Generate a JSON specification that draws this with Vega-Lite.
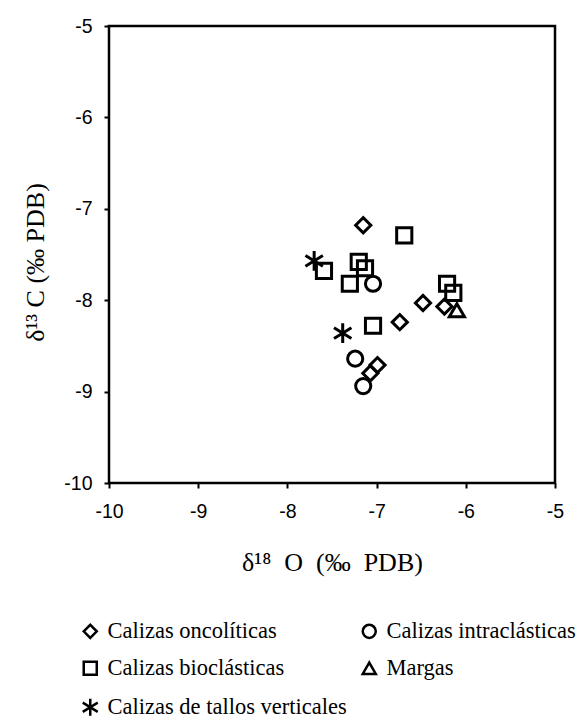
{
  "$schema": "https://vega.github.io/schema/vega-lite/v6.json",
  "autosize": "none",
  "width": 446,
  "height": 457,
  "padding": {"left": 109, "top": 26, "right": 29, "bottom": 238},
  "background": "white",
  "config": {
    "view": {"stroke": "black", "strokeWidth": 2.5},
    "axis": {
      "domain": false,
      "grid": false,
      "tickColor": "black",
      "tickWidth": 2,
      "tickSize": 5,
      "labelFont": "Liberation Sans",
      "labelFontSize": 19.5,
      "labelColor": "black",
      "titleFont": "Liberation Serif",
      "titleFontSize": 25,
      "titleFontWeight": "normal",
      "titleColor": "black"
    }
  },
  "data": {
    "values": [
      {"d18O": -7.15, "d13C": -7.18, "tipo": "Calizas oncolíticas"},
      {"d18O": -6.74, "d13C": -8.24, "tipo": "Calizas oncolíticas"},
      {"d18O": -6.48, "d13C": -8.03, "tipo": "Calizas oncolíticas"},
      {"d18O": -6.24, "d13C": -8.07, "tipo": "Calizas oncolíticas"},
      {"d18O": -6.99, "d13C": -8.71, "tipo": "Calizas oncolíticas"},
      {"d18O": -7.07, "d13C": -8.80, "tipo": "Calizas oncolíticas"},
      {"d18O": -6.69, "d13C": -7.29, "tipo": "Calizas bioclásticas"},
      {"d18O": -7.20, "d13C": -7.58, "tipo": "Calizas bioclásticas"},
      {"d18O": -7.13, "d13C": -7.65, "tipo": "Calizas bioclásticas"},
      {"d18O": -7.30, "d13C": -7.82, "tipo": "Calizas bioclásticas"},
      {"d18O": -7.59, "d13C": -7.68, "tipo": "Calizas bioclásticas"},
      {"d18O": -7.04, "d13C": -8.28, "tipo": "Calizas bioclásticas"},
      {"d18O": -6.21, "d13C": -7.82, "tipo": "Calizas bioclásticas"},
      {"d18O": -6.14, "d13C": -7.92, "tipo": "Calizas bioclásticas"},
      {"d18O": -7.04, "d13C": -7.82, "tipo": "Calizas intraclásticas"},
      {"d18O": -7.24, "d13C": -8.64, "tipo": "Calizas intraclásticas"},
      {"d18O": -7.15, "d13C": -8.94, "tipo": "Calizas intraclásticas"},
      {"d18O": -6.10, "d13C": -8.11, "tipo": "Margas"},
      {"d18O": -7.70, "d13C": -7.57, "tipo": "Calizas de tallos verticales"},
      {"d18O": -7.38, "d13C": -8.36, "tipo": "Calizas de tallos verticales"}
    ]
  },
  "mark": {"type": "point", "filled": false, "strokeWidth": 3, "color": "black", "opacity": 1, "size": 230},
  "encoding": {
    "x": {
      "field": "d18O", "type": "quantitative",
      "scale": {"domain": [-10, -5], "nice": false, "zero": false},
      "axis": {"values": [-10, -9, -8, -7, -6, -5], "labelExpr": "'' + datum.value", "labelPadding": 14, "labelFlush": false, "title": "δ¹⁸\u2002O\u2002(‰\u2002PDB)", "titleFontSize": 26, "titleY": 87, "titleBaseline": "alphabetic"}
    },
    "y": {
      "field": "d13C", "type": "quantitative",
      "scale": {"domain": [-10, -5], "nice": false, "zero": false},
      "axis": {"values": [-10, -9, -8, -7, -6, -5], "labelExpr": "'' + datum.value", "labelPadding": 12, "labelFlush": false, "title": "δ¹³ C (‰ PDB)", "titleFontSize": 26, "titleX": -74, "titleY": 236, "titleAngle": -90, "titleBaseline": "middle"}
    },
    "shape": {
      "field": "tipo", "type": "nominal",
      "scale": {
        "domain": ["Calizas oncolíticas", "Calizas bioclásticas", "Calizas de tallos verticales", "Calizas intraclásticas", "Margas"],
        "range": ["diamond", "square", "M0,-1.3L0,1.3M-1.15,-0.7L1.15,0.7M-1.15,0.7L1.15,-0.7", "circle", "triangle-up"]
      },
      "legend": {
        "title": null,
        "orient": "none",
        "legendX": -30,
        "legendY": 594,
        "columns": 2,
        "columnPadding": 10,
        "rowPadding": 13,
        "symbolSize": 170,
        "symbolStrokeWidth": 2.5,
        "symbolStrokeColor": "black",
        "symbolFillColor": "transparent",
        "labelFont": "Liberation Serif",
        "labelFontSize": 22.5,
        "labelColor": "black",
        "labelOffset": 6,
        "labelLimit": 400
      }
    }
  }
}
